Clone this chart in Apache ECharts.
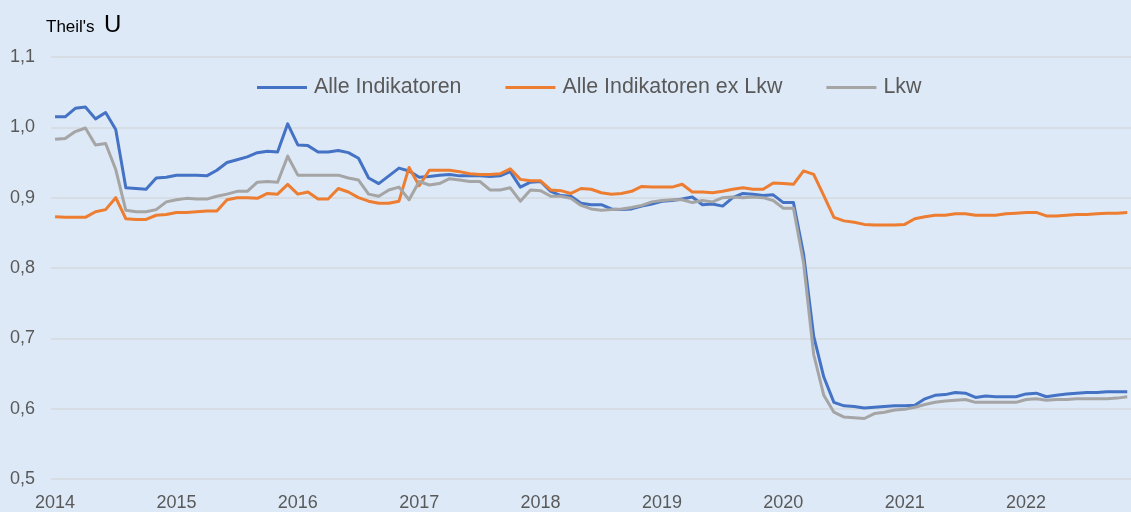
<!DOCTYPE html>
<html>
<head>
<meta charset="utf-8">
<script src="https://cdn.jsdelivr.net/npm/echarts@6/dist/echarts.min.js"></script>
<style>
	html, body { margin: 0; padding: 0; background: #dde9f7; }
	#chart { width: 1131px; height: 512px; }
</style>
</head>
<body>
<div id="chart"></div>
<script>
// Monatswerte Jan 2014 - Nov 2022
const startYear = 2014;
const yearLabels = ['2014', '2015', '2016', '2017', '2018', '2019', '2020', '2021', '2022'];
const seriesNames = ['Alle Indikatoren', 'Alle Indikatoren ex Lkw', 'Lkw'];

const alleIndikatoren = [
	1.015, 1.015, 1.027, 1.029, 1.012, 1.021, 0.997, 0.914, 0.913, 0.912, 0.928, 0.929,
	0.932, 0.932, 0.932, 0.931, 0.939, 0.950, 0.954, 0.958, 0.964, 0.966, 0.965, 1.005,
	0.975, 0.974, 0.965, 0.965, 0.967, 0.964, 0.956, 0.928, 0.920, 0.931, 0.942, 0.938,
	0.929, 0.930, 0.932, 0.933, 0.931, 0.931, 0.931, 0.930, 0.931, 0.937, 0.915, 0.922,
	0.923, 0.909, 0.903, 0.902, 0.892, 0.890, 0.890, 0.884, 0.883, 0.884, 0.888, 0.891,
	0.895, 0.896, 0.898, 0.901, 0.890, 0.891, 0.888, 0.900, 0.906, 0.905, 0.903, 0.904,
	0.893, 0.893, 0.820, 0.703, 0.645, 0.609, 0.604, 0.603, 0.601, 0.602, 0.603, 0.604,
	0.604, 0.605, 0.614, 0.619, 0.620, 0.623, 0.622, 0.616, 0.618, 0.617, 0.617, 0.617,
	0.621, 0.622, 0.617, 0.619, 0.621, 0.622, 0.623, 0.623, 0.624, 0.624, 0.624
];

const exLkw = [
	0.873, 0.872, 0.872, 0.872, 0.880, 0.883, 0.900, 0.870, 0.869, 0.869, 0.875, 0.876,
	0.879, 0.879, 0.880, 0.881, 0.881, 0.897, 0.900, 0.900, 0.899, 0.906, 0.905, 0.919,
	0.905, 0.908, 0.898, 0.898, 0.913, 0.908, 0.900, 0.895, 0.892, 0.892, 0.895, 0.943,
	0.917, 0.939, 0.939, 0.939, 0.937, 0.934, 0.933, 0.933, 0.934, 0.941, 0.926, 0.924,
	0.924, 0.911, 0.910, 0.906, 0.913, 0.912, 0.907, 0.905, 0.906, 0.909, 0.916, 0.915,
	0.915, 0.915, 0.919, 0.908, 0.908, 0.907, 0.909, 0.912, 0.914, 0.912, 0.912, 0.921,
	0.920, 0.919, 0.938, 0.933, 0.903, 0.872, 0.867, 0.865, 0.862, 0.861, 0.861, 0.861,
	0.862, 0.870, 0.873, 0.875, 0.875, 0.877, 0.877, 0.875, 0.875, 0.875, 0.877, 0.878,
	0.879, 0.879, 0.874, 0.874, 0.875, 0.876, 0.876, 0.877, 0.878, 0.878, 0.879
];

const lkw = [
	0.983, 0.984, 0.994, 0.999, 0.975, 0.977, 0.940, 0.882, 0.880, 0.880, 0.883, 0.894,
	0.897, 0.899, 0.898, 0.898, 0.902, 0.905, 0.909, 0.909, 0.922, 0.923, 0.922, 0.959,
	0.932, 0.932, 0.932, 0.932, 0.932, 0.928, 0.925, 0.905, 0.902, 0.911, 0.915, 0.897,
	0.923, 0.918, 0.920, 0.927, 0.925, 0.923, 0.923, 0.911, 0.911, 0.914, 0.895, 0.911,
	0.910, 0.902, 0.902, 0.899, 0.889, 0.884, 0.882, 0.883, 0.884, 0.886, 0.889, 0.894,
	0.896, 0.897, 0.897, 0.893, 0.896, 0.894, 0.900, 0.901, 0.900, 0.901, 0.900, 0.896,
	0.885, 0.885, 0.807, 0.677, 0.619, 0.595, 0.588, 0.587, 0.586, 0.593, 0.595, 0.598,
	0.599, 0.602, 0.606, 0.609, 0.611, 0.612, 0.613, 0.609, 0.609, 0.609, 0.609, 0.609,
	0.613, 0.614, 0.612, 0.613, 0.613, 0.614, 0.614, 0.614, 0.614, 0.615, 0.617
];

const colors = ['#4472c4', '#ed7d31', '#a5a5a5'];
const textColor = '#595959';

// Monatsindex als x-Wert
function toPairs(arr) {
	return arr.map((v, i) => [i, v]);
}

const chart = echarts.init(document.getElementById('chart'));

const option = {
	backgroundColor: '#dde9f7',
	animation: false,
	title: {
		text: "{a|Theil's  }{b|U}",
		left: 41,
		top: 8,
		textStyle: {
			fontWeight: 'normal',
			rich: {
				a: { fontSize: 17, color: '#000', fontWeight: 'normal', fontFamily: 'Liberation Sans, Arial', verticalAlign: 'bottom', padding: [0, 0, 1, 0] },
				b: { fontSize: 24, color: '#000', fontWeight: 'normal', fontFamily: 'Liberation Sans, Arial', verticalAlign: 'bottom' }
			}
		}
	},
	legend: {
		left: 252,
		top: 72,
		itemGap: 44,
		itemWidth: 50,
		itemHeight: 3,
		icon: 'rect',
		textStyle: { fontSize: 21.4, color: textColor, fontFamily: 'Liberation Sans, Arial', padding: [0, 0, 0, 2] },
		data: seriesNames
	},
	grid: {
		left: 51,
		right: 0,
		top: 57,
		bottom: 28,
		containLabel: false
	},
	xAxis: {
		type: 'value',
		min: -0.4,
		max: 106.37,
		axisLine: { show: false },
		axisTick: { show: false },
		splitLine: { show: false },
		axisLabel: {
			customValues: yearLabels.map((y, i) => i * 12),
			formatter: v => String(startYear + Math.round(v / 12)),
			fontSize: 18,
			color: textColor,
			fontFamily: 'Liberation Sans, Arial',
			margin: 15
		}
	},
	yAxis: {
		type: 'value',
		min: 0.5,
		max: 1.1,
		interval: 0.1,
		axisLine: { show: false },
		axisTick: { show: false },
		splitLine: { lineStyle: { color: '#d5d8de', width: 1.5 } },
		axisLabel: {
			formatter: v => v.toFixed(1).replace('.', ','),
			fontSize: 18,
			color: textColor,
			fontFamily: 'Liberation Sans, Arial',
			margin: 16
		}
	},
	series: [
		{
			name: seriesNames[0],
			type: 'line',
			data: toPairs(alleIndikatoren),
			showSymbol: false,
			lineStyle: { color: colors[0], width: 3, join: 'round' },
			itemStyle: { color: colors[0] }
		},
		{
			name: seriesNames[1],
			type: 'line',
			data: toPairs(exLkw),
			showSymbol: false,
			lineStyle: { color: colors[1], width: 3, join: 'round' },
			itemStyle: { color: colors[1] }
		},
		{
			name: seriesNames[2],
			type: 'line',
			data: toPairs(lkw),
			showSymbol: false,
			lineStyle: { color: colors[2], width: 3, join: 'round' },
			itemStyle: { color: colors[2] }
		}
	]
};

chart.setOption(option);
</script>
</body>
</html>
